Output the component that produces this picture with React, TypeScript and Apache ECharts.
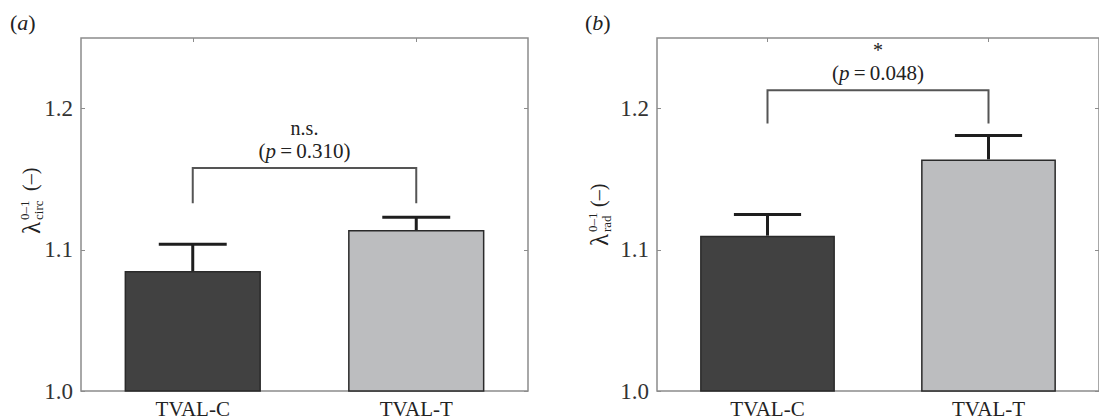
import React, { useEffect, useRef } from 'react';
import * as echarts from 'echarts';

const categories = ['TVAL-C', 'TVAL-T'];
const circMeans = [1.085, 1.114];
const circUpper = [1.104, 1.123];
const radMeans = [1.11, 1.164];
const radUpper = [1.125, 1.181];
const yTicks = [1.0, 1.1, 1.2];
const yMin = 1.0;
const yMax = 1.25;
const bracketTops = [1.158, 1.213];
const bracketLegs = [1.133, 1.1895];
const sigLabels = ['n.s.', '*'];
const pValues = ['0.310', '0.048'];
const panelLetters = ['a', 'b'];
const ySubs = ['circ', 'rad'];
const barColors = ['#414141', '#bcbdbf'];

const SERIF = 'Liberation Serif';

export default function App() {
  const ref = useRef<HTMLDivElement>(null);
  useEffect(() => {
    document.body.style.margin = '0';
    const chart = echarts.init(ref.current!, null, { renderer: 'svg' });
    const gridLefts = [81, 657];
    const gridTop = 38;
    const gridW = 447;
    const gridH = 355;
    const panels = [
      { means: circMeans, upper: circUpper },
      { means: radMeans, upper: radUpper },
    ];

    const grid: any[] = [];
    const xAxis: any[] = [];
    const yAxis: any[] = [];
    const series: any[] = [];
    const graphic: any[] = [];

    panels.forEach((p, i) => {
      grid.push({
        left: gridLefts[i], top: gridTop, width: gridW, height: gridH,
        show: true, borderColor: '#8c8c8c', borderWidth: 1.5, backgroundColor: 'transparent',
      });
      xAxis.push({
        type: 'category', gridIndex: i, position: 'bottom', data: categories,
        axisLine: { show: false },
        axisTick: { show: true, inside: true, length: 4, alignWithLabel: true, lineStyle: { color: '#8c8c8c' } },
        axisLabel: { color: '#222', fontFamily: SERIF, fontSize: 21, margin: 7 },
      });
      xAxis.push({
        type: 'category', gridIndex: i, position: 'top', data: categories,
        axisLine: { show: false },
        axisTick: { show: true, inside: true, length: 4, alignWithLabel: true, lineStyle: { color: '#8c8c8c' } },
        axisLabel: { show: false },
      });
      yAxis.push({
        type: 'value', gridIndex: i, position: 'left', min: yMin, max: yMax,
        axisLine: { show: false }, splitLine: { show: false },
        axisTick: { show: true, inside: true, length: 4, customValues: yTicks, lineStyle: { color: '#8c8c8c' } },
        axisLabel: {
          customValues: yTicks, color: '#333', fontFamily: SERIF, fontSize: 23, margin: 8,
          formatter: (v: number) => v.toFixed(1),
        },
      });
      yAxis.push({
        type: 'value', gridIndex: i, position: 'right', min: yMin, max: yMax,
        axisLine: { show: false }, splitLine: { show: false },
        axisTick: { show: true, inside: true, length: 4, customValues: yTicks, lineStyle: { color: '#8c8c8c' } },
        axisLabel: { show: false },
      });

      series.push({
        type: 'bar', xAxisIndex: 2 * i, yAxisIndex: 2 * i, barWidth: '61%',
        data: p.means.map((v, k) => ({ value: v, itemStyle: { color: barColors[k] } })),
        itemStyle: { borderColor: '#2a2a2a', borderWidth: 1.5 },
      });
      series.push({
        type: 'custom', xAxisIndex: 2 * i, yAxisIndex: 2 * i,
        encode: { x: 0, y: [1, 2] },
        data: p.means.map((v, k) => [k, v, p.upper[k]]),
        renderItem: (params: any, api: any) => {
          const x = api.value(0);
          const lo = api.coord([x, api.value(1)]);
          const hi = api.coord([x, api.value(2)]);
          const band = api.size([1, 0])[0];
          const hw = band * 0.152;
          const st = { stroke: '#1e1e1e', lineWidth: 3 };
          return {
            type: 'group',
            children: [
              { type: 'line', shape: { x1: lo[0], y1: lo[1], x2: hi[0], y2: hi[1] }, style: st },
              { type: 'line', shape: { x1: hi[0] - hw, y1: hi[1], x2: hi[0] + hw, y2: hi[1] }, style: st },
            ],
          };
        },
      });
      series.push({
        type: 'custom', xAxisIndex: 2 * i, yAxisIndex: 2 * i,
        encode: { x: [0, 1], y: [2, 3] },
        data: [[0, 1, bracketTops[i], bracketLegs[i]]],
        renderItem: (params: any, api: any) => {
          const a = api.coord([api.value(0), api.value(2)]);
          const b = api.coord([api.value(1), api.value(2)]);
          const la = api.coord([api.value(0), api.value(3)]);
          const lb = api.coord([api.value(1), api.value(3)]);
          const cx = (a[0] + b[0]) / 2;
          return {
            type: 'group',
            children: [
              {
                type: 'polyline',
                shape: { points: [[la[0], la[1]], [a[0], a[1]], [b[0], b[1]], [lb[0], lb[1]]] },
                style: { stroke: '#555', lineWidth: 2, fill: 'none' },
              },
              {
                type: 'text',
                style: {
                  x: cx, y: a[1] - 40, text: sigLabels[i], align: 'center', verticalAlign: 'middle',
                  fontFamily: SERIF, fontSize: 20, fill: '#222',
                },
              },
              {
                type: 'text',
                style: {
                  x: cx, y: a[1] - 17, text: '({i|p}\u2009=\u2009' + pValues[i] + ')', align: 'center', verticalAlign: 'middle',
                  fontFamily: SERIF, fontSize: 21, fill: '#222',
                  rich: { i: { fontStyle: 'italic', fontFamily: SERIF, fontSize: 21, fill: '#222' } },
                },
              },
            ],
          };
        },
      });

      graphic.push({
        type: 'text', left: i === 0 ? 10 : 585, top: 11,
        style: {
          text: '({i|' + panelLetters[i] + '})', fontFamily: SERIF, fontSize: 22, fill: '#222',
          rich: { i: { fontStyle: 'italic', fontFamily: SERIF, fontSize: 22, fill: '#222' } },
        },
      });

      const gx = i === 0 ? 31 : 599;
      const gy = i === 0 ? 234 : 246;
      const subW = ySubs[i].length * 6;
      const scriptW = Math.max(subW, 20);
      graphic.push({
        type: 'group', x: gx, y: gy, rotation: Math.PI / 2,
        children: [
          { type: 'text', x: 0, y: 0, style: { text: 'λ', fontFamily: SERIF, fontSize: 25, fill: '#222', verticalAlign: 'middle' } },
          { type: 'text', x: 14, y: -7, style: { text: '0–1', fontFamily: SERIF, fontSize: 13, fill: '#222', verticalAlign: 'middle' } },
          { type: 'text', x: 14, y: 7, style: { text: ySubs[i], fontFamily: SERIF, fontSize: 13, fill: '#222', verticalAlign: 'middle' } },
          { type: 'text', x: 14 + scriptW + 5, y: -1, style: { text: '(–)', fontFamily: SERIF, fontSize: 20, fill: '#222', verticalAlign: 'middle' } },
        ],
      });
    });

    chart.setOption({
      animation: false,
      backgroundColor: '#fff',
      grid, xAxis, yAxis, series, graphic,
    });
    return () => chart.dispose();
  }, []);
  return <div ref={ref} style={{ width: 1099, height: 419 }} />;
}
